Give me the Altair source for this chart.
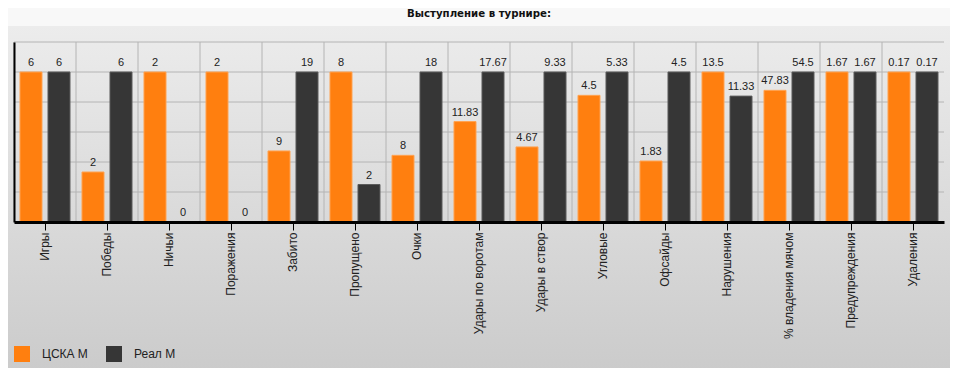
import altair as alt
import pandas as pd

categories = ["Игры", "Победы", "Ничьи", "Поражения", "Забито", "Пропущено", "Очки",
              "Удары по воротам", "Удары в створ", "Угловые", "Офсайды", "Нарушения",
              "% владения мячом", "Предупреждения", "Удаления"]
teams = ["ЦСКА М", "Реал М"]
cska = [6, 2, 2, 2, 9, 8, 8, 11.83, 4.67, 4.5, 1.83, 13.5, 47.83, 1.67, 0.17]
real = [6, 6, 0, 0, 19, 2, 18, 17.67, 9.33, 5.33, 4.5, 11.33, 54.5, 1.67, 0.17]
grid_levels = [0.2, 0.4, 0.6, 0.8, 1.0, 1.2]
team_colors = ["#ff7f0f", "#363636"]
team_strokes = ["#ffa352", "#5c5c5c"]

rows = []
for i, c in enumerate(categories):
    m = max(cska[i], real[i])
    for t, v in zip(teams, [cska[i], real[i]]):
        rows.append({"cat": c, "team": t, "value": v,
                     "norm": (v / m) if m else 0,
                     "label": f"{v:g}"})
df = pd.DataFrame(rows)
cat_df = pd.DataFrame({"cat": categories})
grid_df = pd.DataFrame({"norm": grid_levels})

W, H = 930, 180

x_scale = alt.Scale(domain=categories, paddingInner=0, paddingOuter=0)
y_scale = alt.Scale(domain=[0, 1.2], nice=False)

x_axis = alt.Axis(title=None, labelAngle=-90, labelFontSize=12,
                  labelFont="Liberation Sans", labelColor="#222222",
                  tickColor="#000000", tickSize=8, tickWidth=1,
                  labelPadding=2, domainColor="#000000", domainWidth=3,
                  grid=False, zindex=1)
y_axis = alt.Axis(title=None, labels=False, ticks=False,
                  grid=False, domainColor="#000000", domainWidth=2, zindex=1)

xoff = alt.XOffset("team:N", sort=teams,
                   scale=alt.Scale(domain=teams, paddingInner=0.214, paddingOuter=0.214))

bg = alt.Chart(pd.DataFrame({"a": [0]})).mark_rect(
    fill=alt.LinearGradient(gradient="linear",
                            stops=[alt.GradientStop(color="#ececec", offset=0),
                                   alt.GradientStop(color="#cbcbcb", offset=1)],
                            x1=0, x2=0, y1=0, y2=1)
).encode(x=alt.value(-6), x2=alt.value(936), y=alt.value(-16), y2=alt.value(330))

vgrid = alt.Chart(cat_df).mark_rule(color="#b4b4b4", strokeWidth=1).encode(
    x=alt.X("cat:N", sort=categories, bandPosition=0, scale=x_scale, axis=x_axis),
    y=alt.value(0), y2=alt.value(H))

hgrid = alt.Chart(grid_df).mark_rule(color="#b4b4b4", strokeWidth=1).encode(
    y=alt.Y("norm:Q", scale=y_scale, axis=y_axis),
    x=alt.value(0), x2=alt.value(W))

bars = alt.Chart(df).mark_bar(strokeWidth=1).encode(
    x=alt.X("cat:N", sort=categories, scale=x_scale, axis=x_axis),
    xOffset=xoff,
    y=alt.Y("norm:Q", scale=y_scale, axis=y_axis),
    color=alt.Color("team:N", sort=teams,
                    scale=alt.Scale(domain=teams, range=team_colors),
                    legend=alt.Legend(title=None, orient="none", legendX=0, legendY=304,
                                      direction="horizontal", symbolType="square",
                                      symbolSize=256, symbolStrokeWidth=0,
                                      symbolOpacity=1,
                                      labelFontSize=12, labelFont="Liberation Sans",
                                      labelColor="#222222", labelOffset=12,
                                      columnPadding=18, padding=0)),
    stroke=alt.Stroke("team:N", sort=teams,
                      scale=alt.Scale(domain=teams, range=team_strokes), legend=None),
)

texts = alt.Chart(df).mark_text(baseline="alphabetic", dy=-6, fontSize=11,
                                font="Liberation Sans", color="#222222").encode(
    x=alt.X("cat:N", sort=categories, scale=x_scale, axis=x_axis),
    xOffset=xoff, y=alt.Y("norm:Q", scale=y_scale, axis=y_axis), text="label:N")

chart = alt.layer(bg, vgrid, hgrid, bars, texts).properties(
    width=W, height=H,
    autosize=alt.AutoSizeParams(type="none"),
    padding={"left": 6, "top": 34, "right": 6, "bottom": 146},
    background="#f8f8f8",
    title=alt.TitleParams("Выступление в турнире:", font="DejaVu Sans", fontSize=10.2,
                          fontWeight="bold", color="#111111", anchor="middle", offset=7),
).configure_view(stroke="#b4b4b4", strokeWidth=1)

chart.save("out.html", embed_options={"renderer": "svg", "actions": False})
